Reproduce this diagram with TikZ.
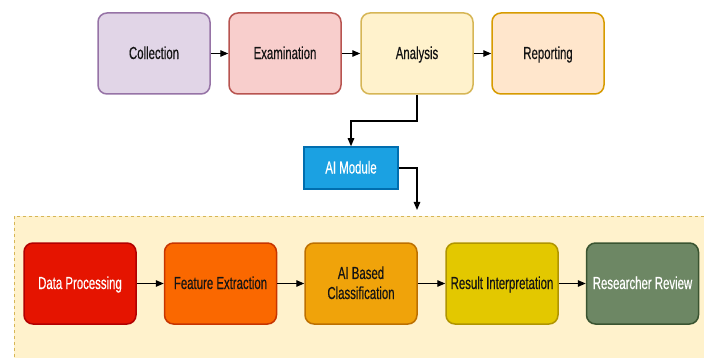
\documentclass[tikz,border=0pt]{standalone}
\usepackage{fontspec}
\usepackage{graphicx}
\setmainfont{Liberation Sans}
\newfontfamily\lblfont{Liberation Sans}[FakeBold=0.5]
\usetikzlibrary{arrows.meta}
\definecolor{colFill}{HTML}{E1D5E7}\definecolor{colLine}{HTML}{9673A6}
\definecolor{exaFill}{HTML}{F8CECC}\definecolor{exaLine}{HTML}{B85450}
\definecolor{anaFill}{HTML}{FFF2CC}\definecolor{anaLine}{HTML}{D6B656}
\definecolor{repFill}{HTML}{FFE6CC}\definecolor{repLine}{HTML}{D79B00}
\definecolor{aiFill}{HTML}{1BA1E2}\definecolor{aiLine}{HTML}{006EAF}
\definecolor{dpFill}{HTML}{E51400}\definecolor{dpLine}{HTML}{B20000}
\definecolor{feFill}{HTML}{FA6800}\definecolor{feLine}{HTML}{C73500}
\definecolor{clFill}{HTML}{F0A30A}\definecolor{clLine}{HTML}{BD7000}
\definecolor{riFill}{HTML}{E3C800}\definecolor{riLine}{HTML}{B09500}
\definecolor{rrFill}{HTML}{6D8764}\definecolor{rrLine}{HTML}{3A5431}
% tall, slightly narrow label text, nudged down a little inside its box
\newcommand{\lbl}[1]{\raisebox{-1.5pt}[\height][\depth]{%
  \scalebox{0.95}[1.45]{\begin{tabular}{@{}c@{}}#1\end{tabular}}}}
\tikzset{
  stage/.style={draw=#1Line, fill=#1Fill, line width=1.5pt, rounded corners=9pt,
    minimum width=112pt, minimum height=81pt, inner sep=2pt, align=center,
    font=\lblfont\fontsize{12}{13.8}\selectfont, text=black!92},
  lightText/.style={text=white},
  flow/.style={line width=1.3pt, -{Triangle[length=8pt,width=6.5pt]}},
}
\begin{document}
\begin{tikzpicture}[x=1pt, y=-1pt]
  \clip (0,0) rectangle (704,358);
  \fill[white] (0,0) rectangle (704,358);
  % container for the AI pipeline
  \draw[draw=anaLine, fill=anaFill, dashed, line width=0.8pt] (14,216) rectangle (712,370);
  % top row
  \node[stage=col] (coll) at (154,53.5) {\lbl{Collection}};
  \node[stage=exa] (exam) at (285,53.5) {\lbl{Examination}};
  \node[stage=ana] (anal) at (417,53.5) {\lbl{Analysis}};
  \node[stage=rep] (repo) at (548,53.5) {\lbl{Reporting}};
  % AI module
  \node[draw=aiLine, fill=aiFill, line width=1.5pt, minimum width=94pt, minimum height=42pt,
        inner sep=2pt, font=\lblfont\fontsize{12}{13.8}\selectfont, text=white] (aim) at (351,168) {\lbl{AI Module}};
  \coordinate (drop) at (417,210);
  % bottom row
  \node[stage=dp, lightText] (dp) at (80,283.5) {\lbl{Data Processing}};
  \node[stage=fe] (fe) at (220.5,283.5) {\lbl{Feature Extraction}};
  \node[stage=cl] (cl) at (361,283.5) {\lbl{AI Based\\Classification}};
  \node[stage=ri] (ri) at (502,283.5) {\lbl{Result Interpretation}};
  \node[stage=rr, lightText] (rr) at (642.5,283.5) {\lbl{Researcher Review}};
  % connectors
  \draw[flow] (coll) -- (exam);
  \draw[flow] (exam) -- (anal);
  \draw[flow] (anal) -- (repo);
  \draw[flow] (anal.south) -- (417,121) -| (aim.north);
  \draw[flow] (aim.east) -| (drop);
  \draw[flow] (dp) -- (fe);
  \draw[flow] (fe) -- (cl);
  \draw[flow] (cl) -- (ri);
  \draw[flow] (ri) -- (rr);
\end{tikzpicture}
\end{document}
